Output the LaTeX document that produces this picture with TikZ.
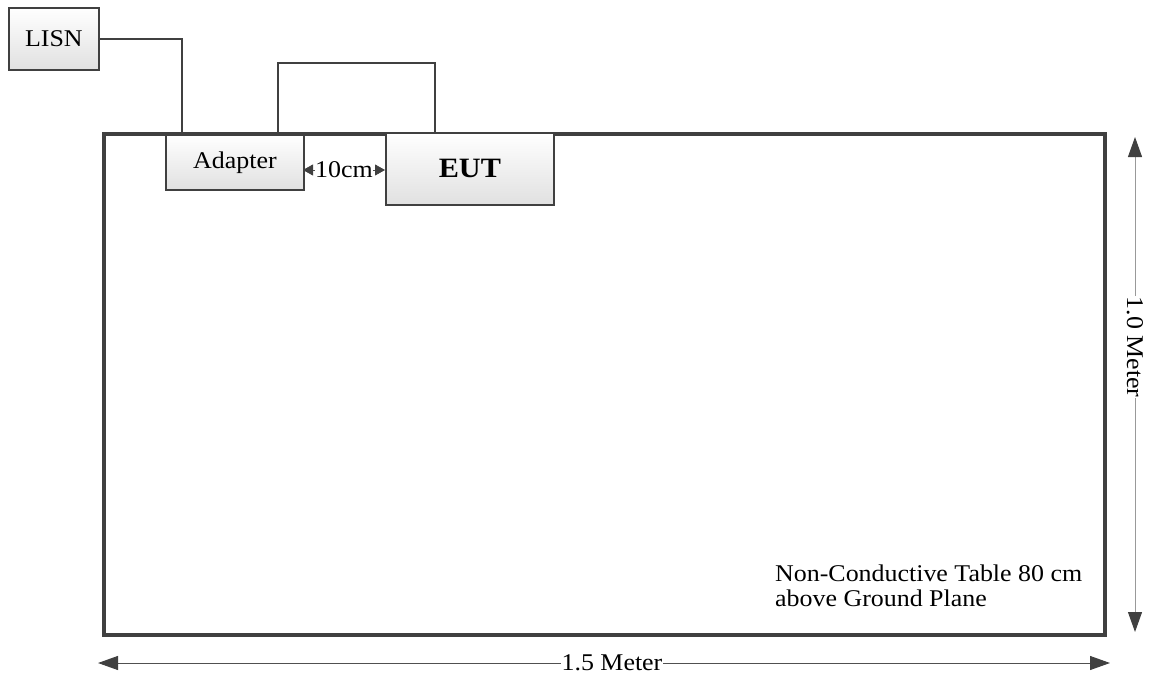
\documentclass[tikz,border=0pt]{standalone}
\usepackage{fontspec}
\setmainfont{Liberation Serif}[FakeStretch=1.08]
\usetikzlibrary{arrows.meta,shadows}
\definecolor{ln}{HTML}{404040}
\definecolor{dim}{HTML}{505050}
\tikzset{
  devbox/.style={draw=ln, line width=1.8pt, top color=white, bottom color=black!12,
    inner sep=0pt, anchor=north west,
    drop shadow={shadow xshift=1.5pt, shadow yshift=-1.5pt, fill=black!25, opacity=0.6}},
  txt/.style={font=\fontsize{24}{25}\selectfont},
  wire/.style={draw=ln, line width=1.6pt},
  bigtip/.style={Triangle[length=20pt,width=14pt,color=ln]},
  dimline/.style={draw=dim, line width=1pt, {Triangle[length=20pt,width=14pt,color=ln]}-{Triangle[length=20pt,width=14pt,color=ln]}},
}
\begin{document}
\begin{tikzpicture}[x=1pt,y=-1pt]
\useasboundingbox (0,0) rectangle (1151,680);
% table
\node[draw=ln, line width=3.5pt, anchor=north west, minimum width=1001pt, minimum height=501pt, inner sep=0pt] (table) at (102,132) {};
% boxes
\node[devbox, txt, minimum width=90pt, minimum height=62pt] (lisn) at (8,7) {LISN};
\node[devbox, txt, minimum width=138pt, minimum height=55pt] (adapter) at (165,134) {Adapter};
\node[devbox, font=\fontsize{28}{30}\selectfont\bfseries, minimum width=168pt, minimum height=72pt] (eut) at (385,132) {EUT};
% wires
\coordinate (a1) at (182,134);
\coordinate (a2) at (278,134);
\coordinate (e1) at (435,132);
\draw[wire] (lisn.east) -| (a1);
\draw[wire] (a2) -- (278,63) -| (e1);
% 10cm
\coordinate (d1) at (303,170);
\coordinate (d2) at (385,170);
\draw[draw=dim, line width=0.8pt, {Triangle[length=10pt,width=11pt,color=ln]}-{Triangle[length=10pt,width=11pt,color=ln]}] (d1) -- (d2)
  node[midway, fill=white, inner sep=0.5pt, txt] (dcm) {10cm};
% vertical dimension
\coordinate (vt) at (1135,137);
\coordinate (vb) at (1135,632);
\draw[dimline, draw=black!40] (vt) -- (vb);
\node[txt, fill=white, inner sep=1pt, rotate=-90] (vlab) at (1135,347) {1.0 Meter};
% horizontal dimension
\coordinate (hl) at (98,663);
\coordinate (hr) at (1110,663);
\draw[dimline] (hl) -- (hr);
\node[txt, fill=white, inner sep=1pt] (hlab) at (612,663) {1.5 Meter};
% table text
\node[txt, align=left, anchor=north west, inner sep=0pt] (tabletxt) at (775,565) {Non-Conductive Table 80 cm\\above Ground Plane};
\end{tikzpicture}
\end{document}
